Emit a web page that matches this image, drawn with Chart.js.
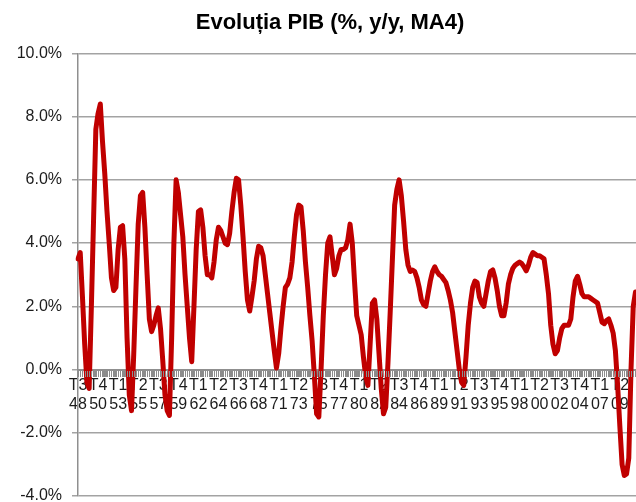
<!DOCTYPE html>
<html>
<head>
<meta charset="utf-8">
<script src="https://cdn.jsdelivr.net/npm/chart.js@4"></script>
<style>
  html, body { margin: 0; padding: 0; background: #fff; overflow: hidden; }
  #wrap { position: absolute; left: 0; top: 0; width: 660px; height: 502px; }
</style>
</head>
<body>
<div id="wrap"><canvas id="chart1" width="660" height="502"></canvas></div>
<script>
// PIB y/y, MA4, trimestrial din T3 1948
var startYear = 1948;
var startQuarter = 3;
var totalSlots = 262; // axa continua dupa marginea pozei

var pibValues = [
    3.5, 3.7, 2.3, 0.8, -0.4, -0.6, 2.0, 4.8, 7.6, 8.1,
    8.4, 7.2, 6.2, 5.0, 4.0, 2.9, 2.5, 2.6, 3.8, 4.5,
    4.55, 3.5, 1.0, -0.8, -1.3, 0.5, 2.6, 4.6, 5.5, 5.6,
    4.5, 3.0, 1.6, 1.2, 1.4, 1.7, 1.95, 1.3, 0.3, -0.8,
    -1.3, -1.45, 1.0, 4.0, 6.0, 5.6, 4.9, 4.2, 3.0, 2.0,
    1.0, 0.25, 2.0, 3.8, 5.0, 5.05, 4.5, 3.6, 3.0, 3.0,
    2.9, 3.4, 4.1, 4.5, 4.4, 4.2, 4.0, 3.95, 4.3, 5.0,
    5.6, 6.05, 6.0, 5.2, 4.2, 3.1, 2.2, 1.85, 2.3, 2.8,
    3.5, 3.9, 3.85, 3.6, 3.0, 2.4, 1.8, 1.2, 0.6, 0.05,
    0.5, 1.3, 2.0, 2.6, 2.7, 2.9, 3.4, 4.2, 4.9, 5.2,
    5.15, 4.4, 3.4, 2.6, 1.7, 0.9, -0.2, -1.4, -1.5, 0.0,
    1.7, 3.0, 4.0, 4.2, 3.6, 3.0, 3.2, 3.6, 3.8, 3.8,
    3.85, 4.1, 4.6, 4.0, 2.8, 1.7, 1.4, 1.1, 0.4, -0.2,
    -0.5, 0.8, 2.1, 2.2, 1.6, 0.5, -0.6, -1.4, -1.2, 0.2,
    1.8, 3.5, 5.2, 5.7, 6.0, 5.5, 4.7, 3.8, 3.3, 3.1,
    3.15, 3.1, 2.9, 2.6, 2.2, 2.05, 2.0, 2.4, 2.8, 3.1,
    3.25, 3.1, 3.0, 2.95, 2.85, 2.75, 2.5, 2.2, 1.8, 1.2,
    0.6, 0.0, -0.4, -0.5, 0.4, 1.4, 2.1, 2.6, 2.8, 2.75,
    2.3, 2.1, 2.0, 2.4, 2.8, 3.1, 3.15, 2.9, 2.5, 2.0,
    1.7, 1.7, 2.1, 2.7, 3.0, 3.2, 3.3, 3.35, 3.4, 3.35,
    3.25, 3.12, 3.3, 3.55, 3.7, 3.65, 3.6, 3.6, 3.55, 3.5,
    3.0, 2.4, 1.4, 0.8, 0.5, 0.6, 1.0, 1.3, 1.4, 1.4,
    1.4, 1.6, 2.3, 2.8, 2.95, 2.7, 2.4, 2.3, 2.3, 2.3,
    2.25, 2.2, 2.15, 2.1, 1.8, 1.5, 1.45, 1.55, 1.6, 1.4,
    1.15, 0.6, -0.5, -1.8, -3.0, -3.35, -3.3, -2.8, 0.0, 2.0, 2.45
];

var tickLabels = [
    'T3 48', 'T4 50', 'T1 53', 'T2 55', 'T3 57', 'T4 59', 'T1 62',
    'T2 64', 'T3 66', 'T4 68', 'T1 71', 'T2 73', 'T3 75', 'T4 77',
    'T1 80', 'T2 82', 'T3 84', 'T4 86', 'T1 89', 'T2 91', 'T3 93',
    'T4 95', 'T1 98', 'T2 00', 'T3 02', 'T4 04', 'T1 07', 'T2 09'
];

var yTicks = [-4, -2, 0, 2, 4, 6, 8, 10];

function makeQuarters() {
    var out = [];
    var q = startQuarter, y = startYear;
    for (var i = 0; i < totalSlots; i++) {
        out.push('T' + q + ' ' + String(y % 100).padStart(2, '0'));
        q++;
        if (q > 4) { q = 1; y++; }
    }
    return out;
}

var quarters = makeQuarters();
var fontFam = '"Liberation Sans", Arial, sans-serif';
var gridGrey = '#a3a3a3';

// liniutele de sub axa x (cate una pe trimestru), trase din pozitiile scalei
var quarterTicks = {
    id: 'quarterTicks',
    afterDraw: function(chart) {
        var xs = chart.scales.x, ys = chart.scales.y;
        var y0 = Math.round(ys.getPixelForValue(0)) + 1;
        var c = chart.ctx;
        c.save();
        c.strokeStyle = '#8c8c8c';
        c.lineWidth = 1;
        c.beginPath();
        for (var i = 0; i < xs.ticks.length; i++) {
            var px = Math.round(xs.getPixelForTick(i)) + 0.5;
            c.moveTo(px, y0);
            c.lineTo(px, y0 + 6);
        }
        c.stroke();
        c.restore();
    }
};

function makePibChart() {
    var ctx = document.getElementById('chart1').getContext('2d');
    new Chart(ctx, {
        type: 'line',
        data: {
            labels: quarters,
            datasets: [{
                label: 'PIB',
                data: pibValues,
                borderColor: '#c00000',
                borderWidth: 5,
                pointRadius: 0,
                tension: 0,
                borderJoinStyle: 'round',
                borderCapStyle: 'round',
                fill: false
            }]
        },
        options: {
            responsive: false,
            animation: false,
            layout: { padding: { left: 0, right: 0, top: 0, bottom: 6 } },
            plugins: {
                legend: { display: false },
                tooltip: { enabled: false },
                title: {
                    display: true,
                    text: 'Evoluția PIB (%, y/y, MA4)',
                    color: '#000',
                    font: { family: fontFam, size: 22, weight: 'bold' },
                    padding: { top: 10, bottom: 17 }
                }
            },
            scales: {
                x: {
                    type: 'category',
                    position: { y: 0 },
                    offset: false,
                    grid: { drawOnChartArea: false, drawTicks: true, tickLength: 6, color: '#8a8a8a', lineWidth: 1 },
                    border: { color: '#8f8f8f', width: 2 },
                    ticks: {
                        autoSkip: false,
                        maxRotation: 0,
                        minRotation: 0,
                        padding: 0,
                        color: '#1c1c1c',
                        font: { family: fontFam, size: 16, lineHeight: 1.2 },
                        callback: function(v) {
                            var lab = this.getLabelForValue(v);
                            return tickLabels.indexOf(lab) >= 0 ? lab.split(' ') : '';
                        }
                    },
                    afterFit: function(s) { s.paddingLeft = 0; s.paddingRight = 0; }
                },
                y: {
                    min: -4,
                    max: 10,
                    afterBuildTicks: function(s) { s.ticks = yTicks.map(function(v) { return { value: v }; }); },
                    grid: { color: gridGrey, lineWidth: 1.5, tickLength: 6 },
                    border: { color: '#8f8f8f', width: 1.5 },
                    ticks: {
                        padding: 10,
                        color: '#1c1c1c',
                        font: { family: fontFam, size: 16 },
                        callback: function(v) { return v.toFixed(1) + '%'; }
                    },
                    afterFit: function(s) { s.width = 78; s.paddingTop = 0; s.paddingBottom = 0; }
                }
            }
        },
        plugins: [quarterTicks]
    });
}

window.onload = function() {
    makePibChart();
};
</script>
</body>
</html>
